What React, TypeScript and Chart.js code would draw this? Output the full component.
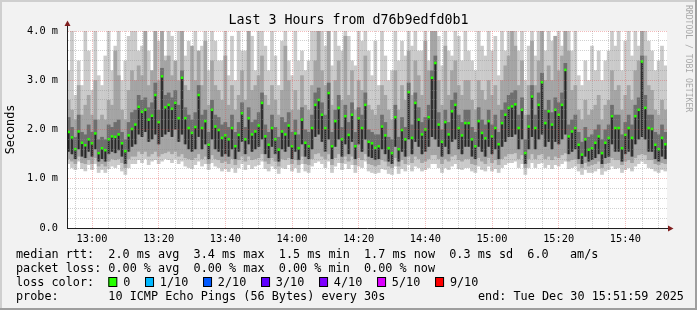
import React, { useEffect, useRef } from "react";
import { Chart, registerables } from "chart.js";

Chart.register(...registerables);

// ---------- texts ----------
const TITLE = "Last 3 Hours from d76b9edfd0b1";
const Y_AXIS_TITLE = "Seconds";
const WATERMARK = "RRDTOOL / TOBI OETIKER";
const LEGEND_RTT = "median rtt:  2.0 ms avg  3.4 ms max  1.5 ms min  1.7 ms now  0.3 ms sd  6.0   am/s";
const LEGEND_LOSS = "packet loss: 0.00 % avg  0.00 % max  0.00 % min  0.00 % now";
const LOSS_TITLE = "loss color:";
const LOSS_LABELS = ["0", "1/10", "2/10", "3/10", "4/10", "5/10", "9/10"];
const LOSS_COLORS = ["#26ff00", "#00b8ff", "#0059ff", "#5e00ff", "#7e00ff", "#dd00ff", "#ff0000"];
const PROBE = "probe:       10 ICMP Echo Pings (56 Bytes) every 30s";
const END_TEXT = "end: Tue Dec 30 15:51:59 2025";

// ---------- axes ----------
const X_START = "12:52:30";
const X_END = "15:52:30";
const FIRST_SAMPLE = "12:53";
const X_TICK_LABELS = ["13:00", "13:20", "13:40", "14:00", "14:20", "14:40", "15:00", "15:20", "15:40"];
const Y_TICK_LABELS = ["0.0", "1.0 m", "2.0 m", "3.0 m", "4.0 m"];

// ---------- data (ms), one sample per minute ----------
const MEDIAN = [
  1.95, 1.84, 1.60, 1.96, 1.73, 1.68, 1.80, 1.72, 1.92, 1.52,
  1.62, 1.58, 1.80, 1.86, 1.85, 1.90, 1.72, 1.56, 1.88, 2.01,
  2.10, 2.46, 2.36, 2.40, 2.20, 2.28, 2.70, 2.15, 3.08, 2.45,
  2.50, 2.42, 2.54, 2.23, 3.05, 2.23, 2.03, 1.93, 2.05, 2.70,
  2.03, 2.17, 1.69, 2.40, 2.06, 1.99, 1.83, 1.88, 1.80, 2.03,
  1.66, 1.89, 2.33, 1.80, 2.23, 1.90, 1.96, 2.08, 2.54, 1.86,
  1.69, 2.03, 1.80, 1.59, 1.96, 1.90, 2.08, 1.66, 1.92, 1.62,
  2.20, 1.73, 1.66, 2.03, 2.50, 2.60, 2.30, 2.03, 2.74, 1.66,
  2.17, 2.44, 1.80, 2.27, 1.89, 2.30, 1.66, 2.23, 2.03, 2.50,
  1.75, 1.72, 1.63, 1.66, 2.06, 1.88, 1.62, 1.52, 2.25, 1.60,
  1.99, 1.80, 2.76, 1.83, 2.54, 2.20, 1.90, 2.00, 2.25, 3.05,
  3.35, 2.10, 1.75, 2.15, 1.90, 2.37, 2.50, 2.03, 1.88, 2.13,
  2.13, 1.80, 1.66, 2.17, 1.93, 1.82, 2.17, 1.86, 2.03, 1.70,
  2.13, 2.30, 2.44, 2.47, 2.51, 2.03, 2.40, 1.52, 2.06, 2.67,
  2.03, 2.50, 2.96, 2.13, 2.37, 2.10, 2.40, 2.30, 2.50, 3.21,
  1.86, 1.96, 2.03, 1.69, 1.49, 1.80, 1.59, 1.62, 1.73, 1.86,
  1.52, 1.73, 1.83, 2.27, 2.03, 2.03, 1.62, 1.89, 2.03, 1.83,
  2.27, 2.40, 3.38, 2.44, 2.03, 2.01, 1.69, 1.60, 1.83, 1.70,
];
const DARK_HI = [
  2.25, 2.05, 1.85, 2.30, 1.95, 1.90, 2.10, 1.95, 2.20, 1.80,
  1.85, 1.80, 2.10, 2.05, 2.15, 2.20, 1.95, 1.80, 2.15, 2.35,
  2.40, 2.70, 2.60, 2.65, 2.45, 2.55, 2.95, 2.40, 3.25, 2.70,
  2.75, 2.65, 2.80, 2.50, 3.20, 2.45, 2.30, 2.20, 2.35, 2.90,
  2.30, 2.40, 1.95, 2.60, 2.30, 2.25, 2.10, 2.15, 2.05, 2.30,
  1.95, 2.15, 2.55, 2.05, 2.45, 2.15, 2.20, 2.35, 2.75, 2.10,
  1.95, 2.30, 2.05, 1.85, 2.25, 2.15, 2.35, 1.95, 2.20, 1.90,
  2.45, 2.00, 1.95, 2.30, 2.75, 2.85, 2.55, 2.30, 2.95, 1.95,
  2.40, 2.70, 2.05, 2.50, 2.15, 2.55, 1.95, 2.45, 2.30, 2.75,
  2.00, 1.95, 1.90, 1.90, 2.30, 2.15, 1.85, 1.80, 2.50, 1.85,
  2.25, 2.05, 2.95, 2.10, 2.75, 2.45, 2.15, 2.25, 2.50, 3.20,
  3.50, 2.35, 2.00, 2.40, 2.15, 2.60, 2.75, 2.30, 2.15, 2.40,
  2.40, 2.05, 1.95, 2.45, 2.20, 2.10, 2.40, 2.10, 2.30, 1.95,
  2.40, 2.55, 2.70, 2.75, 2.80, 2.30, 2.65, 1.80, 2.30, 2.90,
  2.30, 2.75, 3.15, 2.40, 2.60, 2.35, 2.65, 2.55, 2.75, 3.35,
  2.10, 2.20, 2.30, 1.95, 1.75, 2.05, 1.85, 1.90, 2.00, 2.10,
  1.80, 2.00, 2.10, 2.50, 2.30, 2.30, 1.90, 2.15, 2.30, 2.10,
  2.50, 2.65, 3.50, 2.70, 2.30, 2.30, 1.95, 1.90, 2.10, 1.95,
];
const DARK_LO = [
  1.55, 1.50, 1.40, 1.60, 1.45, 1.42, 1.55, 1.45, 1.60, 1.35,
  1.40, 1.35, 1.50, 1.55, 1.52, 1.58, 1.45, 1.30, 1.55, 1.65,
  1.70, 1.90, 1.85, 1.95, 1.75, 1.80, 1.90, 1.70, 1.85, 1.90,
  1.95, 1.85, 2.00, 1.75, 1.90, 1.70, 1.60, 1.55, 1.60, 1.85,
  1.60, 1.70, 1.40, 1.80, 1.60, 1.55, 1.45, 1.50, 1.45, 1.60,
  1.40, 1.55, 1.75, 1.50, 1.70, 1.55, 1.60, 1.65, 1.80, 1.50,
  1.42, 1.65, 1.50, 1.35, 1.60, 1.55, 1.65, 1.40, 1.55, 1.38,
  1.70, 1.45, 1.40, 1.60, 1.85, 1.90, 1.75, 1.55, 1.80, 1.40,
  1.65, 1.80, 1.45, 1.70, 1.50, 1.75, 1.40, 1.70, 1.55, 1.80,
  1.45, 1.42, 1.38, 1.40, 1.60, 1.50, 1.35, 1.30, 1.65, 1.35,
  1.55, 1.45, 1.80, 1.50, 1.75, 1.65, 1.50, 1.55, 1.65, 1.85,
  1.80, 1.65, 1.45, 1.65, 1.50, 1.75, 1.80, 1.60, 1.50, 1.65,
  1.65, 1.45, 1.40, 1.65, 1.55, 1.45, 1.65, 1.50, 1.60, 1.40,
  1.65, 1.75, 1.85, 1.85, 1.90, 1.60, 1.80, 1.30, 1.60, 1.85,
  1.60, 1.80, 1.90, 1.65, 1.75, 1.60, 1.75, 1.70, 1.80, 1.90,
  1.50, 1.55, 1.60, 1.40, 1.30, 1.45, 1.35, 1.38, 1.42, 1.50,
  1.30, 1.42, 1.45, 1.70, 1.55, 1.55, 1.35, 1.50, 1.55, 1.45,
  1.70, 1.80, 1.85, 1.80, 1.55, 1.55, 1.40, 1.35, 1.45, 1.40,
];
const MID_HI = [
  2.60, 2.40, 2.20, 2.90, 2.30, 2.50, 2.70, 2.30, 3.00, 2.20,
  2.30, 2.20, 2.60, 2.50, 3.60, 3.10, 2.40, 2.20, 2.80, 3.20,
  3.00, 3.30, 3.10, 4.30, 2.90, 3.20, 4.30, 3.00, 4.30, 3.40,
  3.50, 3.10, 3.40, 3.00, 4.30, 2.90, 2.80, 3.70, 3.00, 3.60,
  2.90, 3.80, 2.50, 3.40, 2.90, 2.80, 2.60, 3.50, 2.50, 2.90,
  2.40, 2.70, 3.20, 2.60, 4.30, 2.80, 2.90, 3.10, 3.50, 2.70,
  2.50, 2.90, 2.60, 2.30, 2.80, 3.70, 3.00, 2.40, 2.80, 2.40,
  3.10, 2.50, 2.40, 2.90, 3.40, 4.30, 3.20, 2.90, 4.30, 2.50,
  3.00, 3.40, 2.60, 3.90, 2.70, 3.20, 2.40, 3.00, 2.80, 3.50,
  2.50, 2.40, 2.30, 2.50, 2.90, 2.70, 2.40, 2.20, 3.20, 2.40,
  2.90, 2.60, 3.60, 2.70, 3.40, 3.10, 2.70, 3.80, 3.20, 4.30,
  4.30, 3.00, 2.50, 3.70, 2.70, 3.20, 3.40, 2.90, 2.70, 3.00,
  3.00, 2.60, 2.40, 3.00, 2.80, 2.60, 3.00, 2.70, 2.90, 2.50,
  3.00, 3.30, 3.50, 4.30, 3.70, 2.90, 3.40, 2.30, 2.90, 3.80,
  2.90, 3.40, 4.30, 3.00, 3.30, 3.00, 3.90, 3.20, 3.50, 4.30,
  3.60, 2.80, 2.90, 2.40, 2.20, 2.60, 2.30, 2.40, 2.50, 2.70,
  2.20, 2.50, 2.60, 3.20, 2.80, 2.90, 2.40, 2.70, 2.90, 2.60,
  3.20, 3.40, 4.30, 3.50, 2.90, 2.80, 2.40, 2.30, 2.60, 2.40,
];
const MID_LO = [
  1.40, 1.35, 1.30, 1.45, 1.32, 1.30, 1.38, 1.30, 1.42, 1.25,
  1.30, 1.25, 1.35, 1.40, 1.38, 1.40, 1.32, 1.22, 1.40, 1.45,
  1.45, 1.55, 1.50, 1.55, 1.45, 1.50, 1.55, 1.45, 1.50, 1.52,
  1.55, 1.50, 1.55, 1.45, 1.50, 1.42, 1.40, 1.38, 1.42, 1.50,
  1.40, 1.45, 1.30, 1.48, 1.40, 1.38, 1.32, 1.35, 1.30, 1.40,
  1.28, 1.38, 1.45, 1.35, 1.45, 1.38, 1.40, 1.42, 1.50, 1.35,
  1.30, 1.42, 1.35, 1.25, 1.40, 1.38, 1.42, 1.30, 1.38, 1.28,
  1.45, 1.30, 1.28, 1.40, 1.50, 1.52, 1.45, 1.40, 1.50, 1.28,
  1.42, 1.50, 1.32, 1.45, 1.35, 1.45, 1.28, 1.42, 1.38, 1.50,
  1.30, 1.28, 1.25, 1.28, 1.38, 1.35, 1.25, 1.22, 1.42, 1.25,
  1.38, 1.30, 1.45, 1.32, 1.45, 1.40, 1.32, 1.35, 1.40, 1.48,
  1.48, 1.40, 1.30, 1.40, 1.35, 1.45, 1.48, 1.38, 1.35, 1.40,
  1.40, 1.30, 1.28, 1.42, 1.35, 1.30, 1.42, 1.32, 1.38, 1.28,
  1.40, 1.45, 1.50, 1.50, 1.52, 1.40, 1.48, 1.22, 1.40, 1.50,
  1.40, 1.48, 1.50, 1.40, 1.45, 1.38, 1.45, 1.42, 1.48, 1.52,
  1.35, 1.38, 1.40, 1.30, 1.22, 1.32, 1.25, 1.28, 1.30, 1.35,
  1.22, 1.30, 1.32, 1.42, 1.38, 1.38, 1.28, 1.35, 1.38, 1.32,
  1.42, 1.48, 1.50, 1.48, 1.38, 1.38, 1.30, 1.28, 1.32, 1.30,
];
const MIN_RTT = [
  1.30, 1.22, 1.18, 1.35, 1.20, 1.15, 1.28, 1.18, 1.30, 1.12,
  1.18, 1.12, 1.20, 1.25, 1.22, 1.28, 1.15, 1.08, 1.22, 1.30,
  1.30, 1.38, 1.32, 1.40, 1.28, 1.35, 1.38, 1.30, 1.35, 1.40,
  1.38, 1.32, 1.40, 1.30, 1.35, 1.25, 1.22, 1.20, 1.28, 1.35,
  1.25, 1.30, 1.18, 1.32, 1.25, 1.22, 1.15, 1.20, 1.14, 1.22,
  1.12, 1.22, 1.30, 1.18, 1.28, 1.20, 1.25, 1.28, 1.35, 1.20,
  1.15, 1.25, 1.20, 1.10, 1.22, 1.20, 1.28, 1.15, 1.22, 1.12,
  1.30, 1.15, 1.12, 1.25, 1.32, 1.35, 1.30, 1.22, 1.35, 1.12,
  1.25, 1.32, 1.18, 1.30, 1.20, 1.28, 1.12, 1.25, 1.22, 1.35,
  1.15, 1.12, 1.10, 1.12, 1.20, 1.18, 1.10, 1.08, 1.25, 1.10,
  1.20, 1.15, 1.28, 1.15, 1.25, 1.22, 1.15, 1.18, 1.22, 1.30,
  1.30, 1.22, 1.12, 1.22, 1.18, 1.25, 1.30, 1.20, 1.18, 1.22,
  1.22, 1.15, 1.12, 1.25, 1.18, 1.15, 1.25, 1.15, 1.20, 1.12,
  1.22, 1.28, 1.32, 1.32, 1.35, 1.22, 1.30, 1.08, 1.22, 1.32,
  1.22, 1.30, 1.32, 1.22, 1.28, 1.20, 1.28, 1.25, 1.30, 1.35,
  1.20, 1.22, 1.25, 1.15, 1.08, 1.18, 1.12, 1.12, 1.15, 1.20,
  1.08, 1.15, 1.18, 1.25, 1.20, 1.22, 1.12, 1.18, 1.22, 1.15,
  1.25, 1.30, 1.35, 1.30, 1.22, 1.20, 1.15, 1.12, 1.18, 1.15,
];
const MAX_RTT = [
  3.20, 4.30, 2.70, 3.40, 2.90, 4.30, 3.60, 2.80, 4.30, 3.10,
  2.90, 3.50, 4.30, 3.20, 3.70, 4.30, 3.00, 3.40, 3.90, 4.30,
  4.30, 3.60, 3.70, 4.30, 3.60, 3.20, 4.30, 3.80, 4.30, 3.50,
  4.30, 3.90, 3.30, 4.30, 4.30, 3.50, 3.80, 3.30, 4.30, 3.60,
  3.70, 4.30, 3.20, 4.30, 3.80, 3.40, 3.40, 4.30, 3.10, 3.90,
  3.00, 4.30, 3.60, 3.60, 4.30, 3.90, 3.20, 4.30, 4.30, 3.70,
  3.20, 4.30, 3.50, 2.90, 3.80, 4.30, 3.40, 3.10, 4.30, 3.40,
  3.60, 3.20, 3.40, 4.30, 4.30, 3.50, 4.30, 3.70, 4.30, 3.30,
  4.30, 3.70, 3.60, 4.30, 3.90, 3.40, 3.30, 4.30, 3.80, 4.30,
  3.60, 3.10, 3.80, 2.90, 4.30, 3.50, 3.00, 3.20, 4.30, 3.40,
  3.80, 3.50, 4.30, 3.70, 4.30, 3.60, 3.60, 4.30, 3.40, 4.30,
  4.30, 3.90, 3.30, 4.30, 3.60, 3.50, 4.30, 3.90, 3.40, 4.30,
  3.60, 3.40, 3.20, 4.30, 3.70, 3.50, 4.30, 3.60, 3.90, 3.10,
  4.30, 3.60, 4.30, 3.80, 4.30, 3.60, 4.30, 3.00, 3.70, 4.30,
  3.50, 4.30, 4.30, 3.60, 4.30, 3.80, 3.90, 4.30, 3.70, 4.30,
  4.30, 3.60, 4.30, 3.10, 2.90, 3.40, 3.00, 3.70, 3.20, 3.60,
  3.00, 3.40, 3.60, 4.30, 3.70, 4.30, 3.20, 3.80, 4.30, 3.50,
  4.30, 3.70, 4.30, 4.30, 3.80, 3.60, 3.20, 3.40, 3.70, 3.30,
];

// ---------- helpers ----------
const toMin = (s: string) => {
  const p = s.split(":").map(Number);
  return p[0] * 60 + p[1] + (p[2] || 0) / 60;
};
const pad2 = (n: number) => (n < 10 ? "0" : "") + n;
const fmtMin = (v: number) => `${Math.floor(v / 60)}:${pad2(Math.round(v) % 60)}`;

const MONO = '"DejaVu Sans Mono", "Liberation Mono", monospace';
const MAJOR_GRID = "rgba(222,79,79,0.38)";
const MINOR_GRID = "rgba(143,143,143,0.42)";
const AXIS = "#1f1f1f";
const ARROW = "#801f1f";

export default function App() {
  const ref = useRef<HTMLCanvasElement | null>(null);

  useEffect(() => {
    const canvas = ref.current;
    if (!canvas) return;

    const first = toMin(FIRST_SAMPLE);
    const xs = MEDIAN.map((_, i) => first + i);
    const band = (lo: number[], hi: number[]) => xs.map((x, i) => ({ x, y: [lo[i], hi[i]] }));
    const xMajor = new Set(X_TICK_LABELS.map(toMin));
    const isInt = (v: number) => Math.abs(v - Math.round(v)) < 1e-6;

    const barCommon = {
      type: "bar" as const,
      grouped: false,
      barPercentage: 1.12,
      categoryPercentage: 1,
      borderWidth: 0,
    };

    const deco = {
      id: "deco",
      beforeDraw(chart: any) {
        const { ctx, width, height, chartArea: a } = chart;
        ctx.save();
        ctx.fillStyle = "#f2f2f2";
        ctx.fillRect(0, 0, width, height);
        ctx.fillStyle = "#cfcfcf";
        ctx.fillRect(0, 0, width, 2);
        ctx.fillRect(0, 0, 2, height);
        ctx.fillStyle = "#9e9e9e";
        ctx.fillRect(0, height - 2, width, 2);
        ctx.fillRect(width - 2, 0, 2, height);
        ctx.fillStyle = "#ffffff";
        ctx.fillRect(a.left, a.top, a.right - a.left, a.bottom - a.top);
        ctx.restore();
      },
      afterDraw(chart: any) {
        const { ctx, width, chartArea: a } = chart;
        ctx.save();
        // axis extensions and arrows
        ctx.strokeStyle = AXIS;
        ctx.lineWidth = 1;
        ctx.beginPath();
        ctx.moveTo(a.left + 0.5, a.top + 1);
        ctx.lineTo(a.left + 0.5, a.top - 5);
        ctx.moveTo(a.right - 1, a.bottom + 0.5);
        ctx.lineTo(a.right + 1, a.bottom + 0.5);
        ctx.stroke();
        ctx.fillStyle = ARROW;
        ctx.beginPath();
        ctx.moveTo(a.left - 2.5, a.top - 5);
        ctx.lineTo(a.left + 3.5, a.top - 5);
        ctx.lineTo(a.left + 0.5, a.top - 10.5);
        ctx.closePath();
        ctx.fill();
        ctx.beginPath();
        ctx.moveTo(a.right + 1, a.bottom - 2.5);
        ctx.lineTo(a.right + 1, a.bottom + 3.5);
        ctx.lineTo(a.right + 6.5, a.bottom + 0.5);
        ctx.closePath();
        ctx.fill();

        // title
        ctx.fillStyle = "#000";
        ctx.font = `13.3px ${MONO}`;
        ctx.textAlign = "center";
        ctx.textBaseline = "alphabetic";
        ctx.fillText(TITLE, width / 2, 24);

        // y axis title
        ctx.save();
        ctx.font = `11.8px ${MONO}`;
        ctx.translate(11, (a.top + a.bottom) / 2);
        ctx.rotate(-Math.PI / 2);
        ctx.textAlign = "center";
        ctx.textBaseline = "middle";
        ctx.fillText(Y_AXIS_TITLE, 0, 0);
        ctx.restore();

        // watermark
        ctx.save();
        ctx.font = `8.1px ${MONO}`;
        ctx.fillStyle = "#a8a8a8";
        ctx.translate(688, 5);
        ctx.rotate(Math.PI / 2);
        ctx.textAlign = "left";
        ctx.textBaseline = "middle";
        ctx.fillText(WATERMARK, 0, 0);
        ctx.restore();

        // legend
        ctx.font = `11.8px ${MONO}`;
        ctx.textAlign = "left";
        ctx.textBaseline = "alphabetic";
        ctx.fillStyle = "#000";
        const lx = 16;
        ctx.fillText(LEGEND_RTT, lx, 258);
        ctx.fillText(LEGEND_LOSS, lx, 272);
        ctx.fillText(LOSS_TITLE, lx, 286);
        const cw = ctx.measureText("0").width;
        let bx = lx + 13 * cw;
        LOSS_LABELS.forEach((lab, i) => {
          ctx.fillStyle = LOSS_COLORS[i];
          ctx.fillRect(bx, 277, 8.5, 9.5);
          ctx.strokeStyle = "#000";
          ctx.lineWidth = 1;
          ctx.strokeRect(bx + 0.5, 277.5, 8, 9);
          ctx.fillStyle = "#000";
          const tx = bx + 14.8;
          ctx.fillText(lab, tx, 286);
          bx = tx + ctx.measureText(lab).width + 14.8;
        });
        ctx.fillText(PROBE, lx, 300);
        ctx.fillText(END_TEXT, 478, 300);
        ctx.restore();
      },
    };

    const chart = new Chart(canvas, {
      type: "bar",
      data: {
        datasets: [
          {
            type: "line",
            data: xs.map((x, i) => ({ x, y: MEDIAN[i] })),
            showLine: false,
            pointStyle: "rect",
            pointRadius: 1.8,
            pointHoverRadius: 1.8,
            pointBackgroundColor: LOSS_COLORS[0],
            pointBorderWidth: 0,
            order: 0,
          } as any,
          {
            ...barCommon,
            data: band(DARK_LO, MEDIAN),
            backgroundColor: "#262626",
            barPercentage: 0.5,
            order: 1,
          } as any,
          { ...barCommon, data: band(DARK_LO, DARK_HI), backgroundColor: "#6e6e6e", order: 2 } as any,
          { ...barCommon, data: band(MID_LO, MID_HI), backgroundColor: "#a4a4a4", order: 3 } as any,
          { ...barCommon, data: band(MIN_RTT, MAX_RTT), backgroundColor: "#cacaca", order: 4 } as any,
        ],
      },
      options: {
        responsive: false,
        animation: false,
        devicePixelRatio: 1,
        events: [],
        layout: { padding: { left: 0, top: 31, right: 30, bottom: 0 } },
        plugins: { legend: { display: false }, tooltip: { enabled: false }, title: { display: false } },
        scales: {
          x: {
            type: "linear",
            min: toMin(X_START),
            max: toMin(X_END),
            offset: false,
            afterBuildTicks: (s: any) => {
              const t: any[] = [];
              for (let v = Math.ceil(s.min / 5) * 5; v <= s.max; v += 5) t.push({ value: v });
              s.ticks = t;
            },
            afterFit: (s: any) => {
              s.height = 82;
            },
            grid: {
              offset: false,
              drawTicks: false,
              z: 1,
              lineWidth: 1,
              color: (c: any) => (c.tick && xMajor.has(c.tick.value) ? MAJOR_GRID : MINOR_GRID),
            },
            border: { display: true, color: AXIS, width: 1, dash: [1, 1], z: 2 },
            ticks: {
              autoSkip: false,
              maxRotation: 0,
              minRotation: 0,
              padding: 5,
              color: "#000",
              font: { family: MONO, size: 10.3 },
              callback: (v: any) => {
                const n = Number(v);
                return xMajor.has(n) ? X_TICK_LABELS.find((l) => toMin(l) === n) || fmtMin(n) : "";
              },
            },
          } as any,
          y: {
            type: "linear",
            min: 0,
            max: Y_TICK_LABELS.length - 1,
            afterBuildTicks: (s: any) => {
              const t: any[] = [];
              for (let i = 0; i <= (Y_TICK_LABELS.length - 1) * 5; i++) t.push({ value: i / 5 });
              s.ticks = t;
            },
            afterFit: (s: any) => {
              s.width = 67;
            },
            grid: {
              drawTicks: false,
              z: 1,
              lineWidth: 1,
              color: (c: any) => (c.tick && isInt(c.tick.value) ? MAJOR_GRID : MINOR_GRID),
            },
            border: { display: true, color: AXIS, width: 1, dash: [1, 1], z: 2 },
            ticks: {
              autoSkip: false,
              padding: 9,
              color: "#000",
              font: { family: MONO, size: 10.3 },
              callback: (v: any) => {
                const n = Number(v);
                return isInt(n) ? Y_TICK_LABELS[Math.round(n)] : "";
              },
            },
          } as any,
        },
      },
      plugins: [deco],
    } as any);

    return () => chart.destroy();
  }, []);

  return (
    <div style={{ position: "absolute", left: 0, top: 0, width: 697, height: 310 }}>
      <canvas ref={ref} width={697} height={310} style={{ display: "block" }} />
    </div>
  );
}
